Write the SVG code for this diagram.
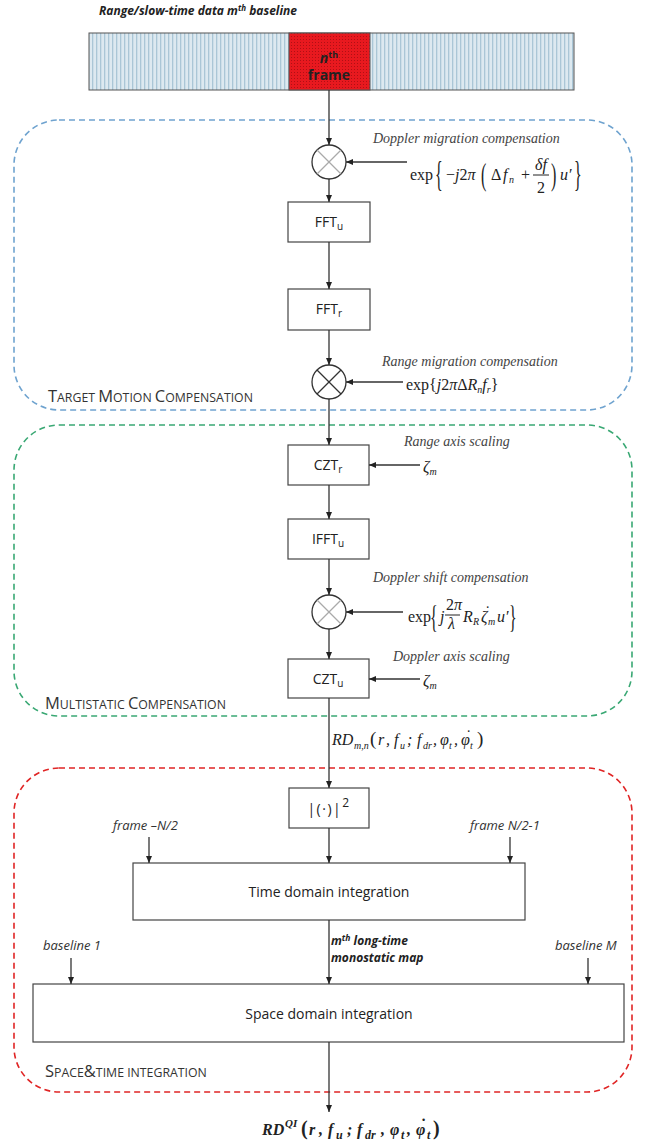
<svg xmlns="http://www.w3.org/2000/svg" width="665" height="1142" viewBox="0 0 665 1142">
<defs>
<marker id="ah" markerUnits="userSpaceOnUse" markerWidth="7" markerHeight="6" refX="7" refY="3" orient="auto"><path d="M0,0 L7,3 L0,6 z" fill="#222"/></marker>
<pattern id="stripe" width="4" height="4" patternUnits="userSpaceOnUse"><rect width="4" height="4" fill="#dde9f0"/><rect width="1.3" height="4" fill="#aac6d6"/></pattern>
<pattern id="dots" width="3" height="3" patternUnits="userSpaceOnUse"><rect width="3" height="3" fill="#e8191f"/><rect width="1" height="1" fill="#b01015"/></pattern>
<style>
.box{fill:#fff;stroke:#444;stroke-width:1.2}
.ln{stroke:#333;stroke-width:1.3;fill:none;marker-end:url(#ah)}
.grp{fill:none;stroke-width:1.6;stroke-dasharray:6 4}
.lbl{font-family:"Open Sans","Liberation Sans",sans-serif;font-size:14px;fill:#222;text-anchor:middle}
.sub{font-size:10px}
.ann{font-family:"Liberation Serif",serif;font-style:italic;font-size:14px;fill:#444}
.m{font-family:"Liberation Serif",serif;font-size:16px;fill:#222}
.it{font-style:italic}
.n{font-style:normal}
.sc{font-family:"Open Sans","Liberation Sans",sans-serif;fill:#333;font-size:12.3px}
.big{font-size:16.5px}
.si{font-family:"Open Sans","Liberation Sans",sans-serif;font-style:italic;font-size:13px;fill:#333}
.bi{font-family:"Open Sans","Liberation Sans",sans-serif;font-style:italic;font-weight:bold;font-size:12px;fill:#222}
.x{stroke:#aaa;stroke-width:1.2}
.xd{stroke:#333;stroke-width:1.2}
.circ{fill:#fff;stroke:#333;stroke-width:1.3}
</style>
</defs>
<rect width="665" height="1142" fill="#fff"/>

<g id="groups">
<rect id="tmc" class="grp" x="14" y="120" width="618" height="290" rx="45" ry="45" stroke="#6fa3cf"/>
<rect id="msc" class="grp" x="14" y="425" width="618" height="291" rx="45" ry="45" stroke="#3aa874"/>
<rect id="sti" class="grp" x="14" y="768" width="618" height="324" rx="45" ry="45" stroke="#e02525"/>
<text class="sc" x="48" y="402"><tspan class="big">T</tspan>ARGET <tspan class="big">M</tspan>OTION <tspan class="big">C</tspan>OMPENSATION</text>
<text class="sc" x="45" y="709"><tspan class="big">M</tspan>ULTISTATIC <tspan class="big">C</tspan>OMPENSATION</text>
<text class="sc" x="45" y="1077"><tspan class="big">S</tspan>PACE<tspan class="big">&amp;</tspan>TIME INTEGRATION</text>
</g>

<g id="input">
<text class="bi" x="99" y="15">Range/slow-time data m<tspan font-size="8" dy="-4">th</tspan><tspan dy="4"> baseline</tspan></text>
<rect x="89" y="33" width="485" height="57" fill="url(#stripe)" stroke="#555" stroke-width="1"/>
<rect x="289" y="33" width="81" height="57" fill="url(#dots)" stroke="#555" stroke-width="1"/>
<text class="lbl" x="329" y="63" font-weight="bold" fill="#3a0a0a"><tspan font-style="italic">n</tspan><tspan font-size="9" dy="-5">th</tspan></text>
<text class="lbl" x="329" y="80" font-weight="bold" fill="#3a0a0a">frame</text>
</g>

<g id="mult1">
<circle class="circ" cx="329" cy="162" r="17"/>
<line class="x" x1="317" y1="150" x2="341" y2="174"/><line class="x" x1="341" y1="150" x2="317" y2="174"/>
<text class="ann" x="373" y="143">Doppler migration compensation</text>
<text class="m" x="410" y="180">exp</text>
<text class="m" font-size="20" transform="translate(435,186) scale(1,2.2)">{</text>
<text class="m" x="446" y="180">−<tspan class="it">j</tspan>2<tspan class="it">π</tspan></text>
<text class="m" transform="translate(481,185) scale(1,2.0)">(</text>
<text class="m" y="180"><tspan x="491">Δ</tspan><tspan class="it" x="503">f</tspan><tspan class="it sub" x="509" y="183">n</tspan></text>
<text class="m" x="521" y="180">+</text>
<text class="m it" x="535" y="170" font-size="15">δf</text>
<line x1="533" y1="175" x2="549" y2="175" stroke="#222" stroke-width="1"/>
<text class="m" x="537" y="193" font-size="15">2</text>
<text class="m" transform="translate(551,185) scale(1,2.0)">)</text>
<text class="m it" x="560" y="180">u′</text>
<text class="m" font-size="20" transform="translate(574,186) scale(1,2.2)">}</text>
</g>

<g id="fftu"><rect class="box" x="288" y="202" width="82" height="40"/><text class="lbl" x="329" y="227">FFT<tspan class="sub" dy="3">u</tspan></text></g>
<g id="fftr"><rect class="box" x="288" y="289" width="82" height="41"/><text class="lbl" x="329" y="314">FFT<tspan class="sub" dy="3">r</tspan></text></g>

<g id="mult2">
<circle class="circ" cx="329" cy="382" r="17"/>
<line class="xd" x1="317" y1="370" x2="341" y2="394"/><line class="xd" x1="341" y1="370" x2="317" y2="394"/>
<text class="ann" x="382" y="366">Range migration compensation</text>
<text class="m" x="406" y="390" font-size="17">exp{<tspan class="it">j</tspan>2<tspan class="it">π</tspan>Δ<tspan class="it">R</tspan><tspan class="it sub" dy="3">n</tspan><tspan class="it" dy="-3">f</tspan><tspan class="it sub" dy="3">r</tspan><tspan dy="-3">}</tspan></text>
</g>

<g id="cztr">
<rect class="box" x="288" y="445" width="81" height="40"/><text class="lbl" x="328" y="470">CZT<tspan class="sub" dy="3">r</tspan></text>
<text class="ann" x="404" y="446">Range axis scaling</text>
<text class="m" x="423" y="472"><tspan class="it">ζ</tspan><tspan class="it sub" dy="3">m</tspan></text>
</g>

<g id="ifftu"><rect class="box" x="288" y="519" width="81" height="40"/><text class="lbl" x="328" y="544">IFFT<tspan class="sub" dy="3">u</tspan></text></g>

<g id="mult3">
<circle class="circ" cx="329" cy="612" r="17"/>
<line class="x" x1="317" y1="600" x2="341" y2="624"/><line class="x" x1="341" y1="600" x2="317" y2="624"/>
<text class="ann" x="373" y="582">Doppler shift compensation</text>
<text class="m" x="408" y="622">exp</text>
<text class="m" font-size="18" transform="translate(430,628) scale(1,2.0)">{</text>
<text class="m it" x="440" y="622">j</text>
<text class="m" x="446" y="610" font-size="14">2<tspan class="it">π</tspan></text>
<line x1="445" y1="615" x2="460" y2="615" stroke="#222" stroke-width="1"/>
<text class="m it" x="448" y="629" font-size="14">λ</text>
<text class="m it" y="622"><tspan x="463">R</tspan><tspan class="sub" x="473" y="625">R</tspan><tspan x="481" y="622">ζ</tspan><tspan x="484" y="617">˙</tspan><tspan class="sub" x="488" y="625">m</tspan><tspan x="497" y="622">u′</tspan></text>
<text class="m" font-size="18" transform="translate(509,628) scale(1,2.0)">}</text>
</g>

<g id="cztu">
<rect class="box" x="288" y="659" width="81" height="39"/><text class="lbl" x="328" y="684">CZT<tspan class="sub" dy="3">u</tspan></text>
<text class="ann" x="393" y="661">Doppler axis scaling</text>
<text class="m" x="423" y="686"><tspan class="it">ζ</tspan><tspan class="it sub" dy="3">m</tspan></text>
</g>

<g id="rdmn">
<text class="m it" y="745" font-size="17"><tspan x="332">RD</tspan><tspan class="sub" x="354" y="749">m,n</tspan><tspan class="n" x="370" y="745" font-size="19">(</tspan><tspan x="378">r</tspan><tspan x="386">,</tspan><tspan x="394">f</tspan><tspan class="sub" x="400" y="749">u</tspan><tspan x="407" y="745">;</tspan><tspan x="417">f</tspan><tspan class="sub" x="423" y="749">dr</tspan><tspan x="433" y="745">,</tspan><tspan x="440">φ</tspan><tspan class="sub" x="449" y="749">t</tspan><tspan x="454" y="745">,</tspan><tspan x="461">φ</tspan><tspan x="465" y="741">˙</tspan><tspan class="sub" x="470" y="749">t</tspan><tspan class="n" x="477" y="745" font-size="19">)</tspan></text>
</g>

<g id="abs"><rect class="box" x="289" y="788" width="80" height="40"/><text class="lbl" x="329" y="814" font-size="18" letter-spacing="1.5">|(·)|<tspan font-size="12" dy="-7">2</tspan></text></g>

<g id="time">
<text class="si" x="113" y="830">frame –N/2</text>
<text class="si" x="470" y="830">frame N/2-1</text>
<rect class="box" x="133" y="863" width="392" height="57"/>
<text class="lbl" x="329" y="897" font-size="16">Time domain integration</text>
</g>

<g id="space">
<text class="bi" x="331" y="945" font-size="13">m<tspan font-size="8.5" dy="-4">th</tspan><tspan dy="4"> long-time</tspan></text>
<text class="bi" x="331" y="962" font-size="13">monostatic map</text>
<text class="si" x="43" y="950">baseline 1</text>
<text class="si" x="555" y="950">baseline M</text>
<rect class="box" x="33" y="984" width="591" height="58"/>
<text class="lbl" x="329" y="1019" font-size="16">Space domain integration</text>
</g>

<g id="output">
<text class="m it" y="1135" font-weight="bold" font-size="18"><tspan x="262">RD</tspan><tspan font-size="11" x="285" y="1127">QI</tspan><tspan class="n" x="301" y="1135" font-size="20">(</tspan><tspan x="309">r</tspan><tspan x="319">,</tspan><tspan x="328">f</tspan><tspan font-size="12" x="336" y="1139">u</tspan><tspan x="347" y="1135">;</tspan><tspan x="357">f</tspan><tspan font-size="12" x="365" y="1139">dr</tspan><tspan x="381" y="1135">,</tspan><tspan x="390">φ</tspan><tspan font-size="12" x="401" y="1139">t</tspan><tspan x="407" y="1135">,</tspan><tspan x="416">φ</tspan><tspan x="420" y="1130">˙</tspan><tspan font-size="12" x="427" y="1139">t</tspan><tspan class="n" x="433" y="1135" font-size="20">)</tspan></text>
</g>

<g id="connectors">
<line class="ln" x1="329" y1="90" x2="329" y2="145"/>
<line class="ln" x1="329" y1="179" x2="329" y2="202"/>
<line class="ln" x1="329" y1="242" x2="329" y2="289"/>
<line class="ln" x1="329" y1="330" x2="329" y2="365"/>
<line class="ln" x1="329" y1="399" x2="329" y2="445"/>
<line class="ln" x1="329" y1="485" x2="329" y2="519"/>
<line class="ln" x1="329" y1="559" x2="329" y2="595"/>
<line class="ln" x1="329" y1="629" x2="329" y2="659"/>
<line class="ln" x1="329" y1="698" x2="329" y2="788"/>
<line class="ln" x1="329" y1="828" x2="329" y2="863"/>
<line class="ln" x1="329" y1="920" x2="329" y2="984"/>
<line class="ln" x1="329" y1="1042" x2="329" y2="1112"/>
<line class="ln" x1="407" y1="162" x2="346" y2="162"/>
<line class="ln" x1="403" y1="382" x2="346" y2="382"/>
<line class="ln" x1="420" y1="465" x2="369" y2="465"/>
<line class="ln" x1="403" y1="612" x2="346" y2="612"/>
<line class="ln" x1="420" y1="679" x2="369" y2="679"/>
<line class="ln" x1="149" y1="837" x2="149" y2="863"/>
<line class="ln" x1="510" y1="837" x2="510" y2="863"/>
<line class="ln" x1="71" y1="958" x2="71" y2="984"/>
<line class="ln" x1="588" y1="958" x2="588" y2="984"/>
</g>
</svg>
